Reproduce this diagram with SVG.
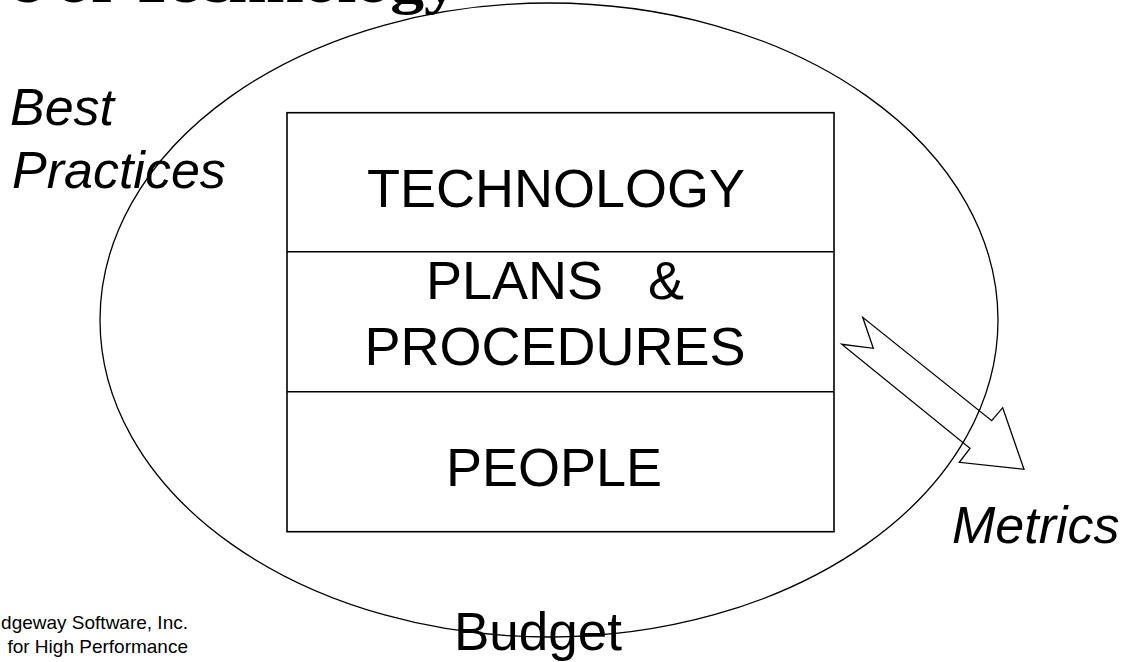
<svg xmlns="http://www.w3.org/2000/svg" width="1137" height="662" viewBox="0 0 1137 662">
  <style>
    .outline { fill: none; stroke: #000; }
    .label { font-family: "Liberation Sans", Arial, sans-serif; fill: #000; }
    .layer { font-size: 54px; text-anchor: middle; }
    .side { font-size: 52px; font-style: italic; }
    .note { font-size: 19px; text-anchor: end; }
    .title { font-family: "Liberation Serif", "Times New Roman", serif; font-weight: bold; font-size: 60px; fill: #000; }
  </style>

  <rect width="1137" height="662" fill="#fff"/>

  <!-- slide heading, mostly above the top edge -->
  <text class="title" x="10" y="2" textLength="448" lengthAdjust="spacingAndGlyphs">e of Technology</text>

  <!-- surrounding environment -->
  <g id="environment">
    <ellipse class="outline" cx="549" cy="320" rx="449" ry="317" stroke-width="1.3"/>
  </g>

  <!-- three stacked layers -->
  <g id="layers">
    <rect class="outline" x="287" y="112.7" width="547" height="419" stroke-width="1.6"/>
    <line class="outline" x1="287" y1="251.7" x2="834" y2="251.7" stroke-width="1.6"/>
    <line class="outline" x1="287" y1="391.7" x2="834" y2="391.7" stroke-width="1.6"/>
  </g>

  <g id="technology">
    <text class="label layer" x="556" y="206.5">TECHNOLOGY</text>
  </g>

  <g id="plans-procedures">
    <text class="label layer" x="555" y="299" xml:space="preserve">PLANS   &amp;</text>
    <text class="label layer" x="555" y="365">PROCEDURES</text>
  </g>

  <g id="people">
    <text class="label layer" x="554" y="486">PEOPLE</text>
  </g>

  <g id="best-practices">
    <text class="label side" x="10" y="125">Best</text>
    <text class="label side" x="12" y="188">Practices</text>
  </g>

  <g id="metrics">
    <text class="label side" x="952" y="543">Metrics</text>
  </g>

  <g id="budget">
    <text class="label" x="454" y="650" font-size="53">Budget</text>
  </g>

  <!-- block arrow leading out to Metrics -->
  <g id="connectors">
    <polygon class="outline" stroke-width="1.3" stroke-linejoin="miter"
      points="862.7,317.3 873.3,348.3 841.7,344.3 970,448.3 959.3,462.3 1024,469.3 1002.7,407.7 991.7,420.7"/>
  </g>

  <g id="footer">
    <text class="label note" x="188" y="629">dgeway Software, Inc.</text>
    <text class="label note" x="188" y="653">for High Performance</text>
  </g>
</svg>
